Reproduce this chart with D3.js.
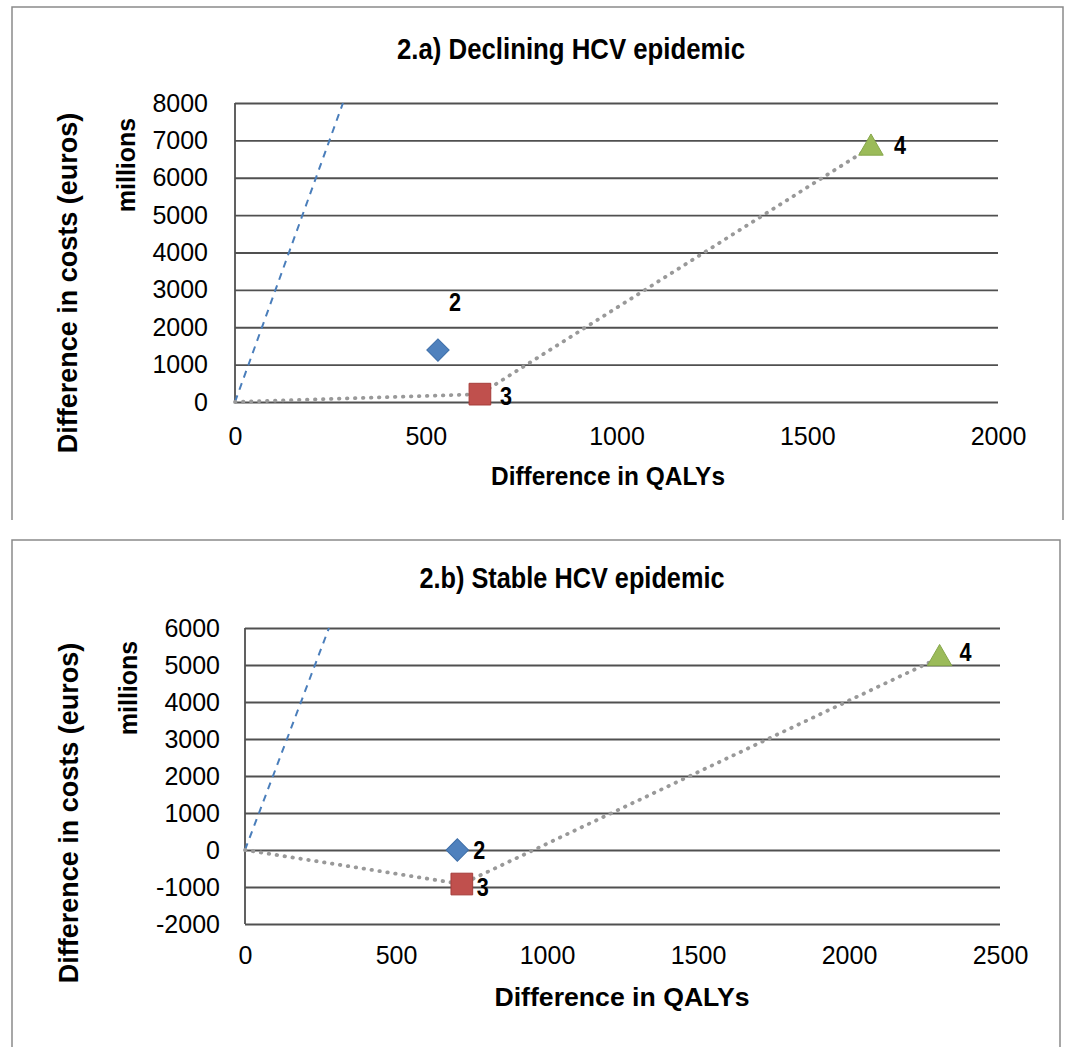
<!DOCTYPE html>
<html><head><meta charset="utf-8">
<script src="https://cdn.jsdelivr.net/npm/d3@7"></script>
<style>
html,body{margin:0;padding:0;background:#fff;}
svg{display:block;}
.tick text{font-family:"Liberation Sans",Arial,sans-serif;font-size:25px;fill:#000;}
</style></head>
<body>
<svg id="chart" width="1068" height="1047"></svg>
<script>
// ---------- data ----------
const strategyLabels = ["2", "3", "4"];

// Panel a: declining epidemic
const titleA = "2.a) Declining HCV epidemic";
const xTicksA = [0, 500, 1000, 1500, 2000];
const yTicksA = [0, 1000, 2000, 3000, 4000, 5000, 6000, 7000, 8000];
const qalysA = [532, 642, 1667];
const costsA = [1390, 210, 6820];
const frontierQalysA = [0, 642, 1667];
const frontierCostsA = [0, 210, 6820];
const thresholdQalysA = [0, 283];
const thresholdCostsA = [0, 8000];

// Panel b: stable epidemic
const titleB = "2.b) Stable HCV epidemic";
const xTicksB = [0, 500, 1000, 1500, 2000, 2500];
const yTicksB = [-2000, -1000, 0, 1000, 2000, 3000, 4000, 5000, 6000];
const qalysB = [703, 718, 2300];
const costsB = [0, -920, 5200];
const frontierQalysB = [0, 718, 2300];
const frontierCostsB = [0, -920, 5200];
const thresholdQalysB = [0, 278];
const thresholdCostsB = [0, 6000];

const xTitle = "Difference in QALYs";
const yTitle = "Difference in costs (euros)";
const yUnit = "millions";
const markerShapes = ["diamond", "square", "triangle"];
const markerColors = ["#4f81bd", "#c0504d", "#9bbb59"];
const markerStrokes = ["#3d6ea8", "#a63d3a", "#86a64a"];

// ---------- drawing ----------
const svg = d3.select("#chart");
const narrow = '"Liberation Sans Narrow","Arial Narrow","Liberation Sans",Arial,sans-serif';
const regular = '"Liberation Sans",Arial,sans-serif';

function drawPanel(cfg) {
  const g = svg.append("g");
  g.append("path")
    .attr("d", cfg.frame)
    .attr("fill", "none").attr("stroke", "#8a8a8a").attr("stroke-width", 1.5);

  const x = d3.scaleLinear().domain(cfg.xDomain).range([cfg.left, cfg.right]);
  const y = d3.scaleLinear().domain(cfg.yDomain).range([cfg.bottom, cfg.top]);

  const ya = g.append("g").attr("transform", `translate(${cfg.left},0)`)
    .call(d3.axisLeft(y).tickValues(cfg.yTicks).tickFormat(d => String(d))
      .tickSize(-(cfg.right - cfg.left)).tickPadding(cfg.yPad));
  ya.select(".domain").remove();
  ya.selectAll(".tick line").attr("stroke", "#505050").attr("stroke-width", 1.8);

  const xa = g.append("g").attr("transform", `translate(0,${cfg.bottom})`)
    .call(d3.axisBottom(x).tickValues(cfg.xTicks).tickFormat(d => String(d))
      .tickSize(0).tickPadding(cfg.xPad));
  xa.select(".domain").remove();

  g.append("line").attr("x1", cfg.left).attr("x2", cfg.left)
    .attr("y1", y(cfg.yDomain[1])).attr("y2", y(cfg.yDomain[0]))
    .attr("stroke", "#505050").attr("stroke-width", 1.8);

  const line = d3.line().x(d => x(d[0])).y(d => y(d[1]));
  g.append("path")
    .attr("d", line(d3.zip(cfg.thrQ, cfg.thrC)))
    .attr("fill", "none").attr("stroke", "#4a7ebb").attr("stroke-width", 2)
    .attr("stroke-dasharray", "7,6");

  g.append("path")
    .attr("d", line(d3.zip(cfg.frQ, cfg.frC)))
    .attr("fill", "none").attr("stroke", "#999").attr("stroke-width", 3.8)
    .attr("stroke-linecap", "round").attr("stroke-dasharray", "0.5,7.5");

  const sym = {
    diamond: d3.symbol().type(d3.symbolSquare).size(250),
    square: d3.symbol().type(d3.symbolSquare).size(470),
    triangle: d3.symbol().type(d3.symbolTriangle).size(260)
  };
  cfg.q.forEach((qv, i) => {
    const shape = markerShapes[i];
    const rot = shape === "diamond" ? 45 : 0;
    const dy = shape === "triangle" ? 1 : 0;
    g.append("path")
      .attr("d", sym[shape]())
      .attr("transform", `translate(${x(qv)},${y(cfg.c[i]) + dy}) rotate(${rot})`)
      .attr("fill", markerColors[i]).attr("stroke", markerStrokes[i]).attr("stroke-width", 1);
    g.append("text")
      .attr("x", x(qv) + cfg.labelOffsets[i][0])
      .attr("y", y(cfg.c[i]) + cfg.labelOffsets[i][1])
      .attr("dy", "0.36em")
      .attr("font-family", narrow).attr("font-weight", "bold").attr("font-size", 25)
      .attr("text-anchor", "middle")
      .attr("textLength", 12).attr("lengthAdjust", "spacingAndGlyphs")
      .text(strategyLabels[i]);
  });

  g.append("text").attr("x", cfg.titleX).attr("y", cfg.titleY)
    .attr("text-anchor", "middle").attr("font-family", narrow)
    .attr("font-weight", "bold").attr("font-size", 30)
    .attr("textLength", cfg.titleLen).attr("lengthAdjust", "spacingAndGlyphs")
    .text(cfg.title);
  g.append("text").attr("x", cfg.xTitleX).attr("y", cfg.xTitleY)
    .attr("text-anchor", "middle").attr("font-family", narrow)
    .attr("font-weight", "bold").attr("font-size", 26)
    .attr("textLength", cfg.xTitleLen).attr("lengthAdjust", "spacingAndGlyphs")
    .text(xTitle);
  g.append("text")
    .attr("transform", `translate(${cfg.unitX},${cfg.unitY}) rotate(-90)`)
    .attr("text-anchor", "middle").attr("font-family", regular)
    .attr("font-weight", "bold").attr("font-size", 25).text(yUnit);
  g.append("text")
    .attr("transform", `translate(${cfg.yTitleX},${cfg.yTitleY}) rotate(-90)`)
    .attr("text-anchor", "middle").attr("font-family", regular)
    .attr("font-weight", "bold").attr("font-size", 27).text(yTitle);
}

drawPanel({
  frame: "M12,520 L12,7 L1063,7 L1063,520",
  xDomain: [0, 2000], yDomain: [0, 8000],
  left: 235, right: 998, top: 103, bottom: 402,
  xTicks: xTicksA, yTicks: yTicksA, yPad: 27, xPad: 25,
  q: qalysA, c: costsA, frQ: frontierQalysA, frC: frontierCostsA,
  thrQ: thresholdQalysA, thrC: thresholdCostsA,
  labelOffsets: [[17, -48], [26, 2], [29, -2]],
  title: titleA, titleX: 571, titleY: 59, titleLen: 348,
  xTitleX: 608, xTitleY: 485, xTitleLen: 234,
  unitX: 135, unitY: 165,
  yTitleX: 77, yTitleY: 283
});

drawPanel({
  frame: "M12,1047 L12,540 L1060,540 L1060,1047",
  xDomain: [0, 2500], yDomain: [-2000, 6000],
  left: 245, right: 1000, top: 628, bottom: 924,
  xTicks: xTicksB, yTicks: yTicksB, yPad: 25, xPad: 22,
  q: qalysB, c: costsB, frQ: frontierQalysB, frC: frontierCostsB,
  thrQ: thresholdQalysB, thrC: thresholdCostsB,
  labelOffsets: [[22, 0], [21, 3], [26, -6]],
  title: titleB, titleX: 572, titleY: 588, titleLen: 305,
  xTitleX: 622, xTitleY: 1006, xTitleLen: 255,
  unitX: 137, unitY: 688,
  yTitleX: 78, yTitleY: 813
});
</script>
</body></html>
